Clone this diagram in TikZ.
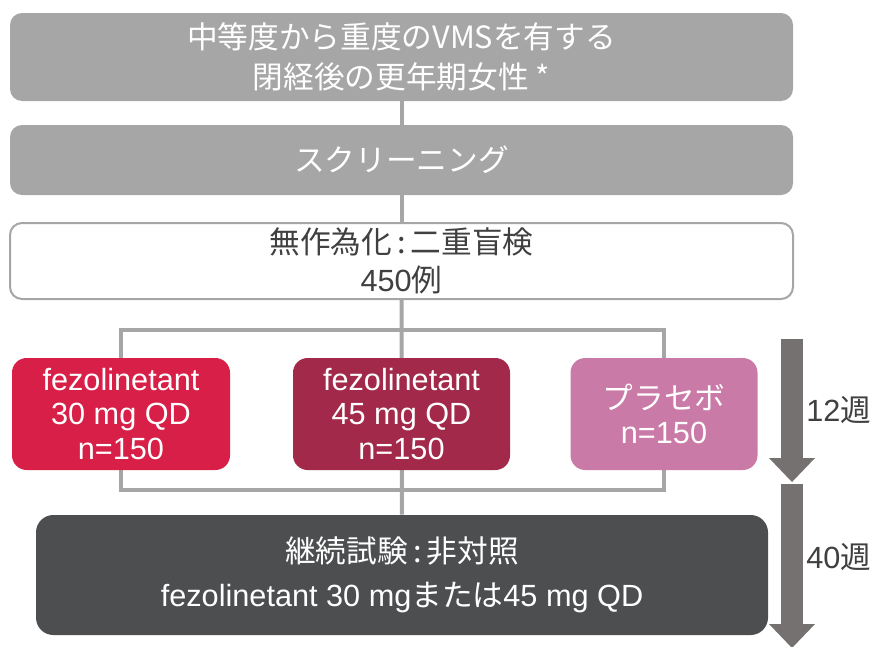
\documentclass[tikz,border=0pt]{standalone}
\usepackage{fontspec}
\setmainfont{Liberation Sans}
\newfontfamily\jpfont{Noto Sans CJK JP}
\newcommand{\jp}[1]{{\jpfont #1}}
\usetikzlibrary{arrows.meta,backgrounds}
\definecolor{boxgray}{HTML}{A6A6A6}
\definecolor{textgray}{HTML}{404040}
\definecolor{armred}{HTML}{D81F48}
\definecolor{armwine}{HTML}{A3294A}
\definecolor{armpink}{HTML}{CA7AA6}
\definecolor{darkbox}{HTML}{4D4E50}
\definecolor{weekgray}{HTML}{767171}

\begin{document}
\begin{tikzpicture}
  [x=0.75pt,y=-0.75pt,
   every node/.style={align=center,inner sep=0pt,font=\fontsize{23}{28}\selectfont},
   stage/.style={rounded corners=9pt,fill=boxgray,text=white,minimum width=587.25pt},
   arm/.style={rounded corners=11pt,text=white,minimum height=84pt},
   link/.style={draw=boxgray,line width=3pt},
   week/.style={draw=weekgray,line width=16.5pt,
     -{Triangle[length=18pt,width=34.5pt,line width=0pt]}}]

  \useasboundingbox (0,0) rectangle (877,646);

  \node[stage,minimum height=66pt] (pop) at (401.5,57)
    {\jp{中等度から重度のVMSを有する}\\[1.5pt]\jp{閉経後の更年期女性 *}};
  \node[stage,minimum height=52.5pt] (scr) at (401.5,160) {\jp{スクリーニング}};
  \node[stage,fill=white,draw=boxgray,line width=1.5pt,text=textgray,
    minimum height=57pt] (rand) at (401.5,261)
    {\jp{無作為化\,:\,二重盲検}\\450\jp{例}};

  \node[arm,fill=armred,minimum width=163.5pt] (lo) at (121,414)
    {fezolinetant\\[-2pt]30 mg QD\\[-2pt]n=150};
  \node[arm,fill=armwine,minimum width=162.75pt] (hi) at (401.5,414)
    {fezolinetant\\[-2pt]45 mg QD\\[-2pt]n=150};
  \node[arm,fill=armpink,minimum width=140.25pt] (pbo) at (664,414)
    {\jp{プラセボ}\\[-2pt]n=150};

  \node[rounded corners=13pt,fill=darkbox,text=white,minimum width=549pt,
    minimum height=90pt] (ext) at (402,575)
    {\jp{継続試験\,:\,非対照}\\[5pt]fezolinetant 30 mg\jp{または}45 mg QD};

  \coordinate (bt) at (0,330);
  \coordinate (bb) at (0,490);

  \draw[link] (pop) -- (scr);
  \draw[link] (scr) -- (rand);
  \begin{scope}[on background layer]
    \draw[link] (rand) -- (ext);
    \draw[link] (lo |- bb) -- (lo |- bt) -- (pbo |- bt) -- (pbo |- bb) -- cycle;
  \end{scope}

  % weeks
  \coordinate (w0) at (792,339);
  \coordinate (w1) at (792,482);
  \coordinate (w2) at (792,484);
  \coordinate (w3) at (792,648);
  \draw[week] (w0) -- (w1);
  \draw[week] (w2) -- (w3);
  \node[anchor=west,text=textgray] (t12) at (806,410) {12\jp{週}};
  \node[anchor=west,text=textgray] (t40) at (806,557) {40\jp{週}};

\end{tikzpicture}
\end{document}
